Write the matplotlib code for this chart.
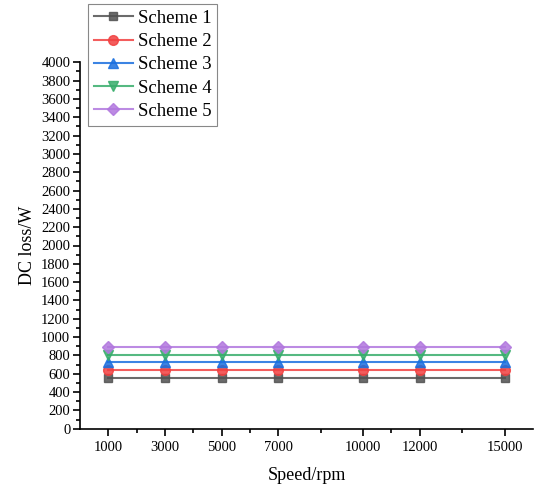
import matplotlib.pyplot as plt
from matplotlib.ticker import MultipleLocator, FixedLocator

plt.rcParams['font.family'] = ['Liberation Serif', 'DejaVu Serif']
plt.rcParams['mathtext.fontset'] = 'stix'

speed = [1000, 3000, 5000, 7000, 10000, 12000, 15000]
names = ['Scheme 1', 'Scheme 2', 'Scheme 3', 'Scheme 4', 'Scheme 5']
loss_1 = [558, 558, 558, 558, 558, 558, 558]
loss_2 = [640, 640, 640, 640, 640, 640, 640]
loss_3 = [726, 726, 726, 726, 726, 726, 726]
loss_4 = [806, 806, 806, 806, 806, 806, 806]
loss_5 = [893, 893, 893, 893, 893, 893, 893]
all_loss = [loss_1, loss_2, loss_3, loss_4, loss_5]

colors = ['#515151', '#F14040', '#1A6FDF', '#37AD6B', '#B177DE']
markers = ['s', 'o', '^', 'v', 'D']
msizes = [6, 7, 7, 7, 6]

fig = plt.figure(figsize=(5.37, 4.88), dpi=100)
ax = fig.add_axes([80 / 537, 1 - 428.7 / 488, (533 - 80) / 537, (428.7 - 62.3) / 488])

for i in range(5):
    ax.plot(speed, all_loss[i], color=colors[i], marker=markers[i], markersize=msizes[i],
            linewidth=1.5, label=names[i], alpha=0.85)

ax.set_xlim(0, 16000)
ax.set_ylim(0, 4000)
ax.xaxis.set_major_locator(FixedLocator(speed))
mids = [(speed[i] + speed[i + 1]) / 2 for i in range(len(speed) - 1)]
ax.xaxis.set_minor_locator(FixedLocator(mids))
ax.yaxis.set_major_locator(MultipleLocator(200))
ax.yaxis.set_minor_locator(MultipleLocator(100))

ax.spines['top'].set_visible(False)
ax.spines['right'].set_visible(False)
ax.spines['left'].set_linewidth(1.2)
ax.spines['bottom'].set_linewidth(1.2)
ax.tick_params(axis='both', which='major', direction='out', length=5, width=1.2, labelsize=10.5)
ax.tick_params(axis='both', which='minor', direction='out', length=3, width=1.2)
ax.tick_params(axis='x', which='major', pad=4)
ax.tick_params(axis='y', which='major', pad=2)

ax.set_xlabel('Speed/rpm', fontsize=13, labelpad=9)
ax.set_ylabel('DC loss/W', fontsize=13, labelpad=4)

leg = ax.legend(loc='upper left', bbox_to_anchor=(88 / 537, 1 - 4 / 488),
                bbox_transform=fig.transFigure, fontsize=13.5, fancybox=False,
                edgecolor='#888888', framealpha=1, borderpad=0.3, labelspacing=0.33,
                handlelength=2.1, handletextpad=0.25, borderaxespad=0)
leg.get_frame().set_linewidth(0.8)

fig.savefig('out.png', dpi=100)
